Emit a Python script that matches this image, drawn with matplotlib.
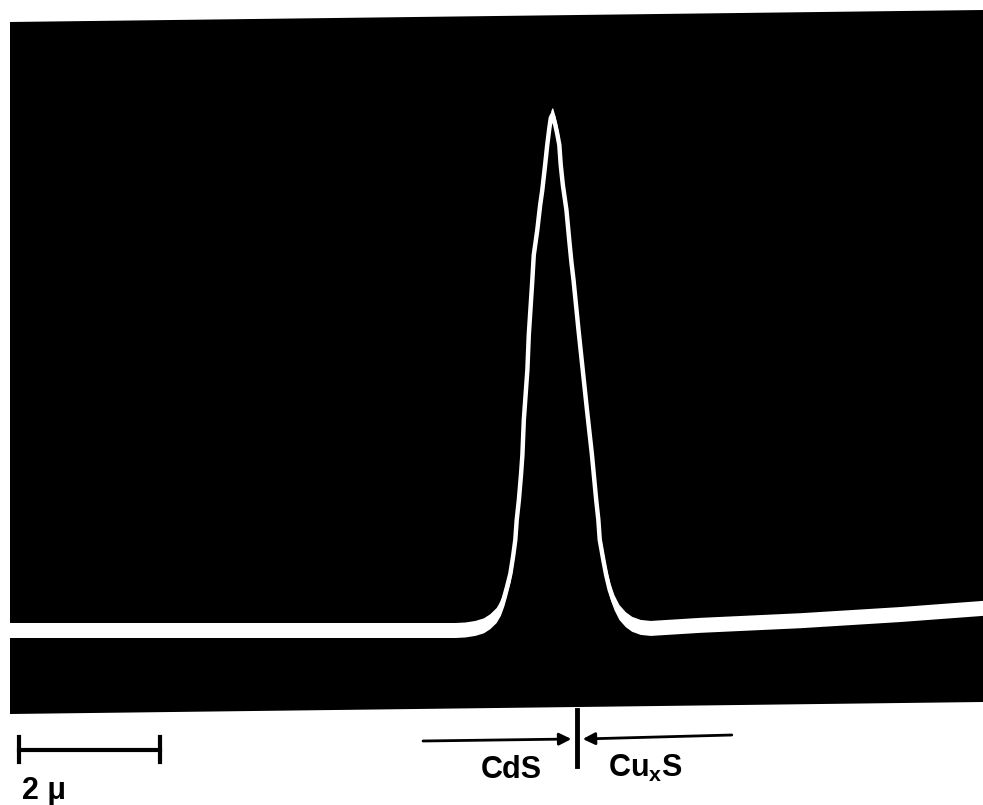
import matplotlib
matplotlib.use("Agg")
import matplotlib.pyplot as plt
import matplotlib.transforms as mtransforms
from matplotlib.patches import Polygon
import numpy as np

plt.rcParams["font.family"] = ["Liberation Sans", "DejaVu Sans"]
plt.rcParams["mathtext.fontset"] = "custom"
plt.rcParams["mathtext.rm"] = "Liberation Sans:bold"
plt.rcParams["mathtext.bf"] = "Liberation Sans:bold"

# trace: position (micron, junction at 0) and signal (peak = 1)
x_um = [-8.00, -6.72, -5.31, -3.90, -2.49, -1.72, -1.58, -1.44, -1.32, -1.23,
        -1.14, -1.08, -1.03, -0.99, -0.94, -0.90, -0.87, -0.85, -0.82, -0.79,
        -0.77, -0.75, -0.70, -0.68, -0.63, -0.61, -0.56, -0.52, -0.49, -0.45,
        -0.42, -0.39, -0.37, -0.35, -0.34, -0.31, -0.28, -0.25, -0.23, -0.20,
        -0.15, -0.11, -0.08, -0.05, 0.02, 0.08, 0.14, 0.21, 0.27, 0.30,
        0.32, 0.37, 0.41, 0.46, 0.52, 0.59, 0.68, 0.77, 0.89, 1.03,
        1.73, 3.14, 4.55, 5.72]
signal = [0.000, 0.000, 0.000, 0.000, 0.000, 0.000, 0.001, 0.004, 0.009, 0.017,
          0.029, 0.043, 0.062, 0.082, 0.109, 0.144, 0.175, 0.214, 0.252, 0.301,
          0.340, 0.408, 0.505, 0.573, 0.680, 0.728, 0.777, 0.825, 0.854, 0.903,
          0.942, 0.975, 0.994, 1.000, 0.998, 0.983, 0.964, 0.942, 0.903, 0.864,
          0.816, 0.757, 0.715, 0.680, 0.583, 0.505, 0.427, 0.340, 0.252, 0.214,
          0.175, 0.136, 0.107, 0.078, 0.054, 0.035, 0.021, 0.012, 0.006, 0.004,
          0.010, 0.019, 0.031, 0.043]

scale_bar_um = 2.0
scale_label = "2 μ"
junction_um = 0.0
left_label = "CdS"
right_label = r"Cu$_\mathrm{x}$S"


def main():
    W, H = 983, 805
    fig = plt.figure(figsize=(W / 100, H / 100), dpi=100)
    fig.patch.set_facecolor("white")

    # black photo area, slightly tilted like the print
    corners = [(10, 22), (983, 10), (983, 702), (10, 714)]
    poly = Polygon([(px / W, 1 - py / H) for px, py in corners], closed=True,
                   transform=fig.transFigure, facecolor="black", edgecolor="none",
                   zorder=-1)
    fig.patches.append(poly)

    ax = fig.add_axes([10 / W, 1 - 714 / H, 973 / W, (714 - 16) / H])
    ax.set_zorder(2)
    ax.set_facecolor("none")
    ax.set_axis_off()
    ax.set_xlim(-7.99, 5.72)
    ax.set_ylim((630 - 714) / 515, (630 - 16) / 515)

    x = np.array(x_um)
    y = np.array(signal)
    band = 7.5 / 515
    ax.fill_between(x, y - band, y + band, color="white", lw=0, zorder=2)
    ax.plot(x, y, color="white", lw=3.2, solid_capstyle="round",
            solid_joinstyle="round", zorder=3)

    trans = mtransforms.blended_transform_factory(ax.transData, fig.transFigure)
    fy = lambda py: 1 - py / H

    # scale bar
    x0 = -7.87
    ax.plot([x0, x0 + scale_bar_um], [fy(750), fy(750)], color="black", lw=3,
            transform=trans, clip_on=False)
    for xe in (x0, x0 + scale_bar_um):
        ax.plot([xe, xe], [fy(737), fy(762)], color="black", lw=3,
                transform=trans, clip_on=False)
    ax.text(x0 + 0.05, fy(791), scale_label, transform=trans, ha="left",
            va="center", fontsize=22, fontweight="bold")

    # junction marker and arrows
    ax.plot([junction_um, junction_um], [fy(710), fy(766)], color="black", lw=3.5,
            transform=trans, clip_on=False)
    arrow = dict(arrowstyle="-|>", lw=2, color="black", mutation_scale=18,
                 shrinkA=0, shrinkB=0)
    ax.annotate("", xy=(junction_um - 0.08, fy(739)), xycoords=trans,
                xytext=(-2.17, fy(741)), textcoords=trans, arrowprops=arrow,
                annotation_clip=False)
    ax.annotate("", xy=(junction_um + 0.08, fy(739)), xycoords=trans,
                xytext=(2.18, fy(735)), textcoords=trans, arrowprops=arrow,
                annotation_clip=False)
    ax.text(-0.92, fy(770), left_label, transform=trans, ha="center",
            va="center", fontsize=22, fontweight="bold")
    ax.text(0.96, fy(768), right_label, transform=trans, ha="center",
            va="center", fontsize=22, fontweight="bold")

    fig.savefig("out.png", dpi=100, facecolor="white")


if __name__ == "__main__":
    main()
